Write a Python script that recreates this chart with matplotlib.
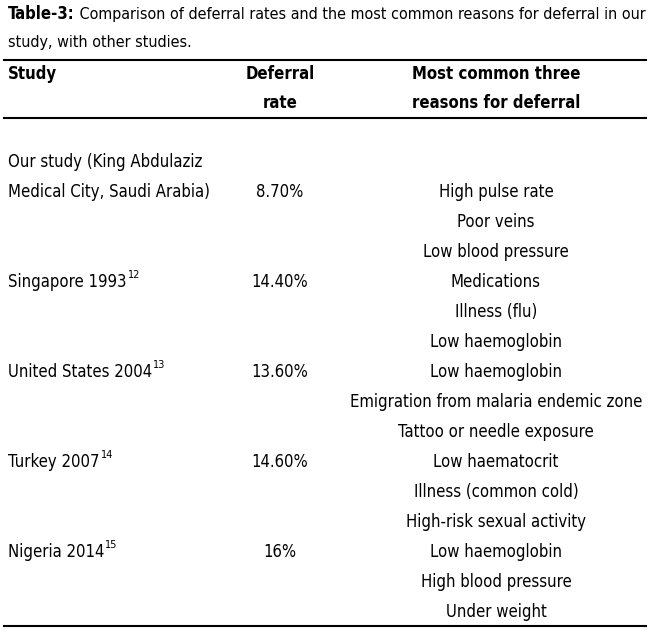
import matplotlib.pyplot as plt
from matplotlib import font_manager

names = {f.name for f in font_manager.fontManager.ttflist}
FONT = "Liberation Sans Narrow" if "Liberation Sans Narrow" in names else "DejaVu Sans"
STRETCH = "condensed"

title_bold = "Table-3:"
title_rest = " Comparison of deferral rates and the most common reasons for deferral in our"
title_line2 = "study, with other studies."

studies = ["Our study (King Abdulaziz\nMedical City, Saudi Arabia)", "Singapore 1993", "United States 2004",
           "Turkey 2007", "Nigeria 2014"]
refs = ["", "12", "13", "14", "15"]
rates = ["8.70%", "14.40%", "13.60%", "14.60%", "16%"]
reasons = [
    ["High pulse rate", "Poor veins", "Low blood pressure"],
    ["Medications", "Illness (flu)", "Low haemoglobin"],
    ["Low haemoglobin", "Emigration from malaria endemic zone", "Tattoo or needle exposure"],
    ["Low haematocrit", "Illness (common cold)", "High-risk sexual activity"],
    ["Low haemoglobin", "High blood pressure", "Under weight"],
]

fig = plt.figure(figsize=(6.5, 6.34), dpi=100)
ax = fig.add_axes([0, 0, 1, 1])
ax.set_xlim(0, 650)
ax.set_ylim(634, 0)
ax.axis("off")
fs = 12
kw = dict(family=FONT, fontstretch=STRETCH, va="center")

t = ax.text(8, 14, title_bold, fontsize=fs, fontweight="bold", **kw)
fig.canvas.draw()
r = fig.canvas.get_renderer()
bb = t.get_window_extent(r)
x_end = ax.transData.inverted().transform((bb.x1, bb.y0))[0]
ax.text(x_end, 14, title_rest, fontsize=fs - 0.5, **kw)
ax.text(8, 42, title_line2, fontsize=fs - 0.5, **kw)

ax.plot([4, 646], [60, 60], color="black", lw=1.5)
ax.plot([4, 646], [118, 118], color="black", lw=1.5)
ax.plot([4, 646], [626, 626], color="black", lw=1.5)

ax.text(8, 74, "Study", fontsize=fs, fontweight="bold", **kw)
ax.text(280, 74, "Deferral", fontsize=fs, fontweight="bold", ha="center", **kw)
ax.text(280, 103, "rate", fontsize=fs, fontweight="bold", ha="center", **kw)
ax.text(496, 74, "Most common three", fontsize=fs, fontweight="bold", ha="center", **kw)
ax.text(496, 103, "reasons for deferral", fontsize=fs, fontweight="bold", ha="center", **kw)

step = 30
y = 192
for i, (s, ref, rate, rs) in enumerate(zip(studies, refs, rates, reasons)):
    lines = s.split("\n")
    for k, ln in enumerate(lines):
        yy = y - (len(lines) - 1 - k) * step
        tt = ax.text(8, yy, ln, fontsize=fs, **kw)
    if ref:
        bb = tt.get_window_extent(r)
        xe = ax.transData.inverted().transform((bb.x1, bb.y0))[0]
        ax.text(xe + 1, y - 7, ref, fontsize=fs * 0.65, **kw)
    ax.text(280, y, rate, fontsize=fs, ha="center", **kw)
    for k, reason in enumerate(rs):
        ax.text(496, y + k * step, reason, fontsize=fs, ha="center", **kw)
    y += 3 * step

fig.savefig("out.png", dpi=100)
